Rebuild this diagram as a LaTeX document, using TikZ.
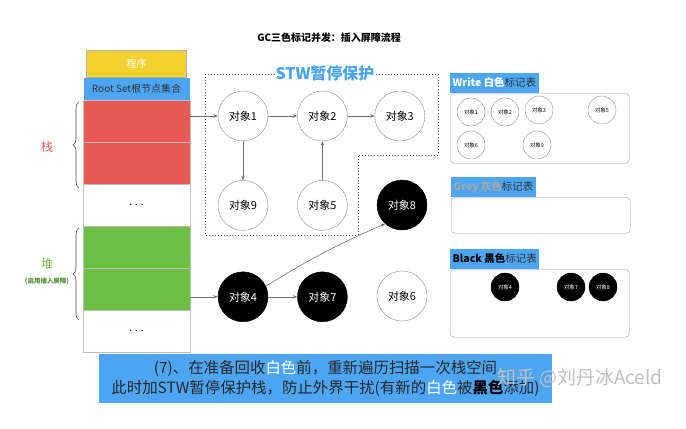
\documentclass[tikz,border=0pt]{standalone}
\usepackage{fontspec}
\setmainfont{Noto Sans CJK SC}
\usetikzlibrary{arrows.meta, positioning, decorations.pathreplacing}

\definecolor{progyellow}{HTML}{F4D22E}
\definecolor{rootblue}{HTML}{4DA6F5}
\definecolor{stackred}{HTML}{E85B54}
\definecolor{heapgreen}{HTML}{6CBE45}
\definecolor{stwblue}{HTML}{4AA3F0}
\definecolor{greytext}{HTML}{A8A8A8}

\begin{document}
\begin{tikzpicture}[
    x=1bp, y=-1bp,
    cell/.style={draw=black!25, fill=white, minimum width=107bp, minimum height=42bp, inner sep=0pt, outer sep=0pt, font=\fontsize{10}{10}\selectfont},
    obj/.style={circle, draw=black!45, fill=white, minimum size=50bp, inner sep=0pt, font=\fontsize{11}{11}\selectfont},
    objb/.style={obj, draw=black, fill=black, text=white},
    mini/.style={circle, draw=black!45, minimum size=28bp, inner sep=0pt, font=\fontsize{5.5}{6}\selectfont},
    minib/.style={mini, draw=black, fill=black, text=white},
    marktable/.style={draw=black!40, rounded corners=4bp, inner sep=0pt, anchor=north west},
    tag/.style={fill=rootblue, inner xsep=2.5bp, inner ysep=0pt, minimum height=20bp, anchor=south west, font=\fontsize{10.5}{10.5}\selectfont, text=black!80},
    arrow/.style={-{Stealth[length=4.5bp, width=3.5bp]}, draw=black!55, line width=0.6bp},
    brace/.style={decorate, decoration={brace, amplitude=6bp}, draw=black!70, line width=0.6bp},
    node distance=29bp and 29bp
  ]
    \useasboundingbox (0,0) rectangle (686,428);

    \node[font=\fontsize{10}{10}\selectfont\bfseries] (title) at (329,38) {GC三色标记并发：插入屏障流程};

    % program stack
    \node[cell, fill=stackred, anchor=north west] (red1) at (83,100) {};
    \node[cell, fill=stackred, below=0pt of red1] (red2) {};
    \node[cell, below=0pt of red2] (dots1) {. . .};
    \node[cell, fill=heapgreen, below=0pt of dots1] (green1) {};
    \node[cell, fill=heapgreen, below=0pt of green1] (green2) {};
    \node[cell, below=0pt of green2] (dots2) {. . .};
    \node[fill=rootblue, minimum width=106bp, minimum height=22bp, inner sep=0pt, above=0pt of red1, font=\fontsize{10}{10}\selectfont, text=black!80] (root) {Root Set根节点集合};
    \node[draw=black!30, fill=progyellow, minimum width=100bp, minimum height=27bp, inner sep=0pt, above=0pt of root, font=\fontsize{10}{10}\selectfont, text=white] (prog) {程序};

    \draw[brace] (79,188) -- (79,102);
    \draw[brace] (79,320) -- (79,228);
    \node[text=stackred, font=\fontsize{12}{12}\selectfont] (stack) at (47,147) {栈};
    \node[text=heapgreen, font=\fontsize{12}{12}\selectfont] (heap) at (47,264) {堆};
    \node[text=heapgreen!75!black, font=\fontsize{6.5}{6.5}\selectfont\bfseries, below=1.5bp of heap] (heapnote) {(启用插入屏障)};

    % STW area
    \draw[dotted, line width=1bp, black!70] (205,74) -- (438,74) -- (438,155) -- (358,155) -- (358,235) -- (205,235) -- cycle;
    \node[fill=white, inner sep=1bp, text=stwblue, font=\fontsize{16}{16}\selectfont\bfseries] (stw) at (325,73) {STW暂停保护};

    % objects
    \node[obj] (o1) at (243,116) {对象1};
    \node[obj, right=of o1] (o2) {对象2};
    \node[obj, right=27bp of o2] (o3) {对象3};
    \node[obj, below=39bp of o1] (o9) {对象9};
    \node[obj, below=39bp of o2] (o5) {对象5};
    \node[objb] (o8) at (402,205) {对象8};
    \node[objb, below=41bp of o9] (o4) {对象4};
    \node[objb, right=of o4] (o7) {对象7};
    \node[obj] (o6) at (402,296) {对象6};

    \draw[arrow] (red1.east |- o1) -- (o1);
    \draw[arrow] (o1) -- (o2);
    \draw[arrow] (o2) -- (o3);
    \draw[arrow] (o1) -- (o9);
    \draw[arrow] (o5) -- (o2);
    \draw[arrow] (green2.east |- o4) -- (o4);
    \draw[arrow] (o4) -- (o7);
    \draw[arrow] (o4.25) to[bend left=4] (o8.228);

    % mark tables
    \node[marktable, minimum width=179bp, minimum height=70bp] (wtab) at (450,93) {};
    \node[tag] (wtag) at (wtab.north west) {{\bfseries\color{white}Write 白色}标记表};
    \node[mini] (w1) at (471,112) {对象1};
    \node[mini] (w2) at (505,112) {对象2};
    \node[mini] (w3) at (539,110) {对象3};
    \node[mini] (w5) at (602,110) {对象5};
    \node[mini] (w6) at (471,145) {对象6};
    \node[mini] (w9) at (537,145) {对象9};

    \node[marktable, minimum width=179bp, minimum height=36bp] (gtab) at (451,197) {};
    \node[tag] (gtag) at (gtab.north west) {{\bfseries\color{greytext}Grey 灰色}标记表};

    \node[marktable, minimum width=179bp, minimum height=68bp] (btab) at (450,269) {};
    \node[tag] (btag) at (btab.north west) {{\bfseries\color{black}Black 黑色}标记表};
    \node[minib] (b4) at (505,287) {对象4};
    \node[minib] (b7) at (571,287) {对象7};
    \node[minib] (b8) at (603,287) {对象8};

    % caption
    \node[fill=rootblue, minimum width=453bp, minimum height=49bp, inner sep=0pt, align=center, text=black!85, font=\fontsize{15.5}{20}\selectfont] (caption) at (325.5,378.5)
      {(7)、在准备回收{\color{white}白色}前，重新遍历扫描一次栈空间\\此时加STW暂停保护栈，防止外界干扰(有新的{\color{white}白色}被{\bfseries\color{black}黑色}添加)};
    \node[text=black!25, font=\fontsize{19}{19}\selectfont] (mark) at (580,378) {知乎 @刘丹冰Aceld};
  \end{tikzpicture}
\end{document}
